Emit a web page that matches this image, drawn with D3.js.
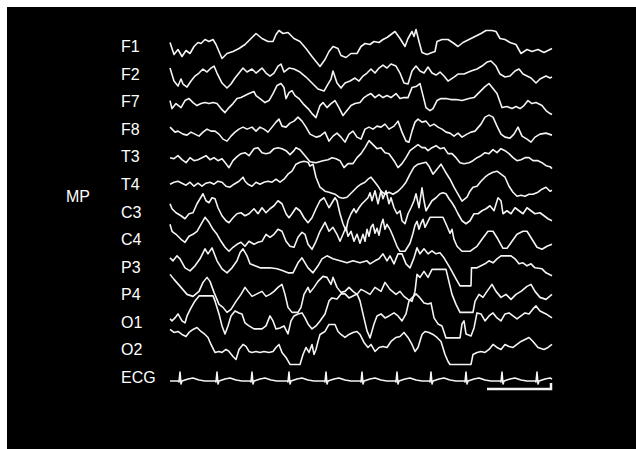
<!DOCTYPE html>
<html lang="en">
  <head>
    <meta charset="UTF-8" />
    <title>EEG MP</title>
    <style>
      body {
        margin: 0;
        background: #fff;
        font-family: 'Liberation Sans', Arial, Helvetica, sans-serif;
      }
      .trace {
        fill: none;
        stroke: #f4f4f4;
        stroke-width: 1.6;
        stroke-linejoin: round;
      }
      .label {
        fill: #fff;
        font-size: 16px;
      }
    </style>
  </head>
  <body>
    <script src="https://d3js.org/d3.v7.min.js"></script>
    <script>
      // channel names, top to bottom
      const channels = ['F1', 'F2', 'F7', 'F8', 'T3', 'T4', 'C3', 'C4', 'P3', 'P4', 'O1', 'O2', 'ECG'];
      const montage = 'MP';

      // [sample, amplitude] (65 samples = 1 s)
      const F1 = [[0,4],[4,-8],[8,-3],[12,-10],[16,-4],[20,-7],[24,0],[28,4],[31,3],[35,7],[39,5],[43,7],[46,2],[52,-12],[57,-7],[63,-5],[69,-2],[75,2],[82,9],[86,13],[92,8],[98,5],[103,5],[106,12],[109,16],[113,13],[118,14],[124,8],[130,5],[136,-2],[142,-10],[150,-20],[155,-13],[159,-5],[163,0],[168,-2],[171,-9],[176,-11],[181,-7],[187,-7],[191,0],[195,3],[200,2],[204,5],[209,4],[213,7],[217,9],[221,12],[225,15],[230,8],[235,0],[238,8],[242,15],[244,10],[246,17],[249,5],[252,-6],[257,-8],[262,-6],[265,-5],[267,5],[272,7],[278,7],[284,3],[288,0],[293,4],[299,7],[305,10],[311,13],[316,16],[322,16],[326,15],[330,8],[335,7],[340,4],[346,2],[351,-7],[357,-3],[362,-5],[368,-3],[374,-6],[378,-4],[382,-2]];
      const F2 = [[0,6],[4,-7],[8,-12],[11,-5],[13,-10],[17,-13],[21,-7],[25,-2],[29,1],[33,5],[37,2],[41,6],[44,8],[47,1],[52,-9],[57,-14],[61,-10],[65,-4],[69,1],[73,6],[77,2],[82,5],[86,1],[92,6],[96,1],[100,-2],[104,1],[108,8],[111,10],[114,2],[119,6],[124,5],[130,2],[136,-3],[142,-9],[148,-15],[154,-17],[158,-10],[161,-5],[163,3],[167,-9],[171,-14],[175,-9],[180,-7],[185,-4],[189,-7],[193,-2],[197,1],[201,5],[205,1],[209,6],[213,9],[217,6],[221,10],[226,8],[230,1],[234,-9],[238,-10],[242,3],[246,8],[250,3],[254,1],[258,7],[262,1],[266,-1],[270,2],[274,-2],[278,-7],[284,-3],[288,0],[294,0],[301,3],[307,5],[312,8],[317,12],[321,13],[326,8],[330,0],[335,-3],[340,-2],[345,3],[349,5],[353,0],[357,-2],[361,-4],[366,-9],[370,-5],[376,-2],[380,-4],[382,-3]];
      const F7 = [[0,1],[2,-7],[6,-2],[11,-6],[15,1],[19,3],[23,-1],[27,-4],[31,-2],[35,-1],[39,-2],[43,-1],[47,-2],[51,-7],[55,-11],[59,-6],[63,-2],[67,3],[71,4],[75,6],[79,8],[84,10],[86,6],[90,3],[95,-1],[99,1],[103,8],[107,16],[111,18],[114,14],[116,3],[119,9],[122,11],[125,6],[129,3],[133,-2],[138,-7],[142,-12],[146,-16],[150,-4],[153,-1],[157,-6],[161,-2],[165,1],[169,-6],[173,-14],[177,-9],[181,-4],[185,-2],[190,-1],[194,4],[197,6],[201,8],[205,4],[209,7],[213,4],[217,6],[221,4],[226,8],[230,3],[234,4],[238,4],[242,14],[246,15],[250,18],[253,6],[256,-6],[260,-9],[263,-7],[267,1],[271,3],[276,3],[281,2],[286,2],[292,1],[299,3],[304,4],[309,9],[315,15],[319,18],[323,13],[327,8],[332,-6],[337,-5],[342,-7],[346,-5],[350,-7],[354,-4],[358,1],[362,-2],[366,-1],[372,-4],[376,-9],[380,-12],[382,-13]];
      const F8 = [[0,2],[2,0],[5,-3],[8,-2],[13,-5],[17,-6],[21,-3],[25,-5],[29,-7],[33,-3],[37,0],[41,-2],[45,-2],[49,-5],[53,-10],[57,-12],[61,-7],[65,-3],[69,0],[73,2],[77,0],[82,2],[86,-2],[90,2],[94,0],[98,-3],[102,2],[106,7],[109,10],[112,3],[116,2],[120,6],[124,8],[128,12],[132,8],[136,2],[140,-5],[146,-8],[150,-7],[155,-3],[159,-12],[163,-7],[167,-4],[171,-8],[175,-13],[179,-5],[183,-2],[187,-8],[191,-10],[195,0],[199,2],[203,0],[207,3],[211,2],[215,5],[219,0],[224,3],[228,8],[232,-3],[236,-12],[239,-13],[242,-2],[245,7],[248,10],[252,7],[256,8],[260,3],[264,5],[268,2],[272,0],[276,-3],[280,-4],[284,-7],[288,-4],[292,-8],[297,-5],[301,-3],[305,-2],[311,5],[315,12],[319,14],[323,12],[327,3],[331,-5],[335,-8],[340,-9],[344,-5],[348,2],[352,-7],[357,-10],[361,-13],[365,-8],[370,-5],[376,-4],[382,-6]];
      const T3 = [[0,-1],[4,-2],[8,1],[12,-3],[16,-6],[20,-1],[24,-4],[28,-3],[32,-1],[36,1],[40,-3],[44,-1],[48,-4],[52,-2],[56,-7],[59,-11],[63,-4],[67,0],[71,3],[75,4],[79,1],[84,8],[88,9],[92,4],[96,3],[100,4],[104,8],[108,9],[112,8],[116,6],[120,2],[124,6],[126,9],[130,7],[135,1],[140,-5],[146,-6],[153,-4],[158,-3],[162,-1],[166,-2],[170,-4],[174,-11],[178,-7],[183,-7],[187,-1],[191,3],[195,9],[199,16],[203,12],[207,8],[211,9],[215,4],[219,3],[224,-4],[228,-11],[232,-7],[236,-1],[240,6],[244,9],[248,12],[252,9],[255,9],[258,6],[262,9],[266,11],[270,8],[274,9],[278,3],[282,3],[286,-1],[290,-6],[294,-7],[299,-6],[303,-4],[307,-1],[311,1],[315,4],[319,3],[323,7],[327,4],[331,8],[335,6],[339,3],[343,-1],[347,-4],[351,-3],[355,-1],[359,-1],[363,-4],[368,-4],[372,-6],[376,-9],[380,-10],[382,-12]];
      const T4 = [[0,0],[4,2],[8,3],[12,1],[16,-1],[20,2],[24,-2],[28,1],[32,-2],[36,1],[40,2],[44,0],[48,3],[52,2],[56,-2],[60,-3],[64,0],[69,3],[73,7],[75,3],[78,0],[82,-2],[86,2],[90,0],[94,2],[98,3],[102,2],[106,5],[110,2],[114,5],[118,10],[122,13],[126,20],[130,22],[134,23],[138,22],[140,18],[143,20],[146,7],[150,-3],[155,-7],[159,-8],[165,-10],[169,-13],[173,-14],[177,-13],[180,-10],[183,-7],[187,-3],[191,0],[195,2],[198,5],[201,7],[205,2],[208,-2],[211,-7],[215,-10],[219,-8],[223,-10],[228,-7],[232,-3],[236,2],[240,10],[244,17],[248,20],[252,21],[256,22],[259,18],[263,10],[267,15],[271,20],[275,13],[280,5],[284,-3],[288,-10],[292,-17],[297,-13],[300,-7],[303,-3],[307,-2],[311,3],[315,7],[319,10],[323,12],[327,13],[331,10],[335,7],[339,-2],[343,-8],[347,-12],[351,-11],[355,-12],[359,-10],[363,-10],[368,-8],[372,-5],[376,-3],[380,-7],[382,-6]];
      const C3 = [[0,8],[2,3],[6,-1],[11,-4],[15,-7],[19,-2],[23,-1],[27,8],[30,13],[33,18],[36,11],[39,9],[42,14],[45,13],[48,4],[52,-4],[56,-9],[59,-11],[63,-6],[67,-2],[71,-1],[75,-4],[79,-2],[84,3],[88,-2],[92,4],[96,-1],[100,3],[104,6],[108,11],[112,8],[116,-2],[119,-6],[122,-2],[126,4],[130,1],[134,-6],[138,-11],[142,-6],[146,3],[150,11],[154,14],[157,8],[159,4],[162,9],[165,14],[167,11],[170,-2],[173,-12],[176,-19],[178,-9],[181,-2],[184,3],[186,-1],[189,4],[192,8],[195,11],[198,14],[200,19],[202,11],[205,21],[208,8],[211,21],[213,13],[216,21],[219,8],[221,14],[224,4],[227,-2],[230,1],[232,-9],[235,-12],[238,-2],[241,4],[244,11],[246,18],[249,4],[252,24],[254,11],[256,1],[259,6],[262,11],[266,14],[270,18],[273,19],[276,18],[279,13],[282,9],[285,4],[288,-2],[292,-9],[296,-12],[300,-9],[304,-2],[308,-2],[312,1],[316,3],[320,6],[324,1],[328,14],[331,11],[333,-2],[337,1],[341,-2],[345,4],[349,1],[353,-2],[357,4],[361,1],[365,-2],[370,-1],[374,-4],[378,-7],[382,-9]];
      const C4 = [[0,15],[2,8],[6,5],[11,0],[15,-3],[19,3],[23,5],[27,8],[31,15],[35,22],[39,17],[43,10],[47,5],[51,-2],[55,-8],[59,-12],[63,-8],[67,-5],[71,-3],[75,-7],[79,-2],[84,-5],[88,-3],[92,-2],[96,5],[100,2],[104,5],[108,10],[112,8],[116,-2],[120,-7],[124,-8],[128,2],[132,7],[135,5],[138,-5],[142,-10],[146,-2],[150,8],[155,17],[159,8],[163,12],[167,5],[170,-2],[173,5],[176,12],[178,3],[181,8],[184,-2],[187,5],[190,-4],[193,5],[195,-2],[197,10],[199,3],[201,12],[203,15],[205,6],[207,11],[209,4],[211,14],[213,20],[215,10],[217,15],[220,10],[223,3],[227,-7],[230,-12],[235,-12],[240,-4],[243,6],[245,14],[247,18],[249,10],[251,16],[253,20],[255,12],[257,16],[260,22],[273,22],[277,13],[280,6],[282,10],[284,0],[287,-7],[292,-12],[300,-12],[304,-9],[307,-7],[312,0],[318,8],[323,8],[328,0],[333,-9],[337,-9],[342,-2],[347,5],[353,8],[357,8],[362,0],[367,-8],[372,-10],[377,-7],[382,-5]];
      const P3 = [[0,9],[3,6],[7,11],[10,8],[15,-1],[20,-4],[25,1],[30,8],[35,18],[38,13],[42,19],[47,6],[52,-2],[57,-6],[62,-1],[67,6],[70,14],[73,18],[77,11],[80,3],[85,1],[90,-1],[95,-1],[100,-1],[107,-2],[113,-4],[118,-6],[123,-6],[128,4],[132,9],[135,4],[138,-1],[143,-6],[148,1],[152,8],[157,11],[163,8],[170,6],[177,4],[183,6],[190,4],[197,6],[200,3],[205,6],[209,8],[213,13],[217,6],[220,11],[224,3],[228,13],[232,13],[236,3],[240,-1],[244,9],[247,19],[250,13],[254,18],[258,13],[262,16],[266,13],[270,14],[274,9],[280,-1],[286,-12],[290,-19],[301,-19],[301.5,-1],[307,-1],[311,1],[315,3],[319,6],[323,4],[327,8],[331,11],[341,11],[345,8],[349,3],[353,4],[357,1],[361,3],[365,-1],[372,-2],[376,-6],[382,-9]];
      const P4 = [[0,20],[4,15],[11,7],[17,0],[23,-2],[29,3],[33,12],[37,17],[40,13],[44,2],[49,-10],[53,-13],[57,-18],[61,-15],[66,-7],[71,0],[75,7],[78,3],[82,-2],[86,0],[92,3],[96,-2],[100,0],[104,3],[108,7],[112,10],[115,0],[118,-13],[122,-18],[128,-18],[131,-13],[134,0],[138,7],[140,2],[144,7],[148,13],[153,18],[157,17],[161,10],[163,17],[167,7],[171,2],[175,3],[179,7],[183,3],[187,0],[191,5],[195,3],[200,0],[205,7],[211,3],[215,12],[220,5],[226,0],[230,3],[234,-2],[238,-5],[242,-7],[245,3],[247,20],[250,17],[254,23],[258,17],[262,25],[276,25],[282,0],[286,-10],[290,-18],[303,-18],[305,-7],[309,0],[313,-3],[317,3],[322,10],[326,3],[331,-3],[336,0],[341,-5],[346,0],[351,3],[357,8],[361,10],[365,3],[370,-3],[376,-5],[382,0]];
      const O1 = [[0,3],[2,1],[5,4],[8,8],[12,1],[15,-1],[17,6],[21,14],[25,21],[29,26],[43,26],[45,21],[49,8],[52,-4],[55,-12],[58,-4],[61,6],[65,11],[69,9],[72,8],[75,-1],[79,-4],[84,-7],[88,-7],[92,-7],[96,-4],[100,6],[103,1],[106,-7],[110,-6],[114,-4],[118,-12],[121,1],[124,6],[128,8],[132,9],[135,4],[138,-2],[142,-7],[146,-4],[150,1],[155,8],[159,21],[162,24],[167,23],[171,28],[175,28],[179,24],[183,26],[187,28],[190,21],[193,8],[197,-9],[200,-16],[204,-2],[207,6],[211,8],[215,4],[219,6],[224,9],[228,6],[232,1],[236,8],[239,21],[242,24],[246,28],[250,24],[254,19],[258,18],[261,19],[264,4],[268,-2],[272,-4],[276,-16],[290,-16],[292,-2],[294,1],[296,-12],[301,-14],[304,-6],[307,9],[311,8],[315,1],[319,6],[323,9],[327,4],[331,1],[335,8],[339,9],[343,6],[347,3],[351,6],[355,9],[359,8],[363,13],[366,16],[370,11],[376,8],[382,4]];
      const O2 = [[0,20],[4,17],[8,18],[12,15],[16,13],[19,17],[23,20],[27,22],[31,18],[35,15],[38,12],[41,5],[45,-3],[49,-2],[52,-3],[56,0],[59,-2],[63,-7],[66,-10],[69,0],[73,5],[76,3],[79,-2],[82,-3],[86,-2],[90,-3],[94,-2],[99,-3],[103,-2],[106,2],[109,5],[112,-3],[116,-8],[120,-15],[130,-15],[133,-5],[136,2],[139,-3],[142,5],[144,-5],[146,0],[148,8],[150,15],[155,18],[159,25],[165,25],[168,18],[171,15],[175,12],[179,15],[183,17],[187,18],[190,15],[194,7],[198,2],[201,5],[205,-2],[209,2],[213,3],[217,2],[221,8],[226,12],[230,13],[234,17],[238,12],[242,5],[245,-2],[248,2],[252,15],[255,18],[259,17],[263,15],[267,12],[271,8],[275,-5],[278,-12],[280,-15],[301,-15],[303,-5],[307,-3],[311,-2],[315,-3],[319,0],[323,5],[327,2],[331,0],[335,5],[339,3],[343,2],[347,5],[351,8],[355,10],[359,12],[363,8],[368,2],[374,0],[378,2],[382,5]];
      const ECG = [[0,-4],[8,-4],[9,-5],[10,5],[11,-7],[12,-4],[18,-2],[23,-1],[29,-3],[35,-4],[45,-4],[46,-5],[47,5],[48,-7],[49,-4],[55,-2],[60,-1],[66,-3],[72,-4],[80,-4],[81,-5],[82,5],[83,-7],[84,-4],[90,-2],[95,-1],[101,-3],[107,-4],[117,-4],[118,-5],[119,5],[120,-7],[121,-4],[127,-2],[132,-1],[138,-3],[144,-4],[154,-4],[155,-5],[156,5],[157,-7],[158,-4],[164,-2],[169,-1],[175,-3],[181,-4],[190,-4],[191,-5],[192,5],[193,-7],[194,-4],[200,-2],[205,-1],[211,-3],[217,-4],[225,-4],[226,-5],[227,5],[228,-7],[229,-4],[235,-2],[240,-1],[246,-3],[252,-4],[259,-4],[260,-5],[261,5],[262,-7],[263,-4],[269,-2],[274,-1],[280,-3],[286,-4],[294,-4],[295,-5],[296,5],[297,-7],[298,-4],[304,-2],[309,-1],[315,-3],[321,-4],[330,-4],[331,-5],[332,5],[333,-7],[334,-4],[340,-2],[345,-1],[351,-3],[357,-4],[365,-4],[366,-5],[367,5],[368,-7],[369,-4],[375,-2],[380,-1],[382,-2]];
      const traces = [F1, F2, F7, F8, T3, T4, C3, C4, P3, P4, O1, O2, ECG];

      // calibration bar: 1 s (65 samples), drawn under the ECG
      const calibStart = 317;
      const calibEnd = 382;
      const calibLevel = -12;
      const calibHeight = 6;

      const width = 636;
      const height = 449;

      const svg = d3.select('body').append('svg').attr('width', width).attr('height', height);

      svg.append('rect')
        .attr('x', 7).attr('y', 7)
        .attr('width', width - 7).attr('height', height - 7)
        .attr('fill', '#000');

      const xScale = d3.scaleLinear().domain([0, 382]).range([170, 552]);
      const rowScale = d3.scalePoint().domain(channels).range([46.5, 377]);
      const ampScale = d3.scaleLinear().domain([-1, 1]).range([1, -1]);

      channels.forEach((ch, i) => {
        const y0 = rowScale(ch);
        const line = d3.line()
          .x((d) => xScale(d[0]))
          .y((d) => y0 + ampScale(d[1]));
        svg.append('path').attr('class', 'trace').attr('d', line(traces[i]));

        svg.append('text')
          .attr('class', 'label')
          .attr('x', 121)
          .attr('y', y0)
          .attr('dy', '0.36em')
          .text(ch);
      });

      svg.append('text')
        .attr('class', 'label')
        .attr('x', 66)
        .attr('y', (rowScale('T4') + rowScale('C3')) / 2 - 2)
        .attr('dy', '0.36em')
        .text(montage);

      // scale bar
      const ecgY = rowScale('ECG');
      const barY = ecgY + ampScale(calibLevel);
      svg.append('path')
        .attr('d', d3.line()([
          [xScale(calibStart), barY],
          [xScale(calibEnd) - 1, barY],
          [xScale(calibEnd) - 1, barY + ampScale(calibHeight)]
        ]))
        .attr('fill', 'none')
        .attr('stroke', '#f4f4f4')
        .attr('stroke-width', 2.5);
    </script>
  </body>
</html>
